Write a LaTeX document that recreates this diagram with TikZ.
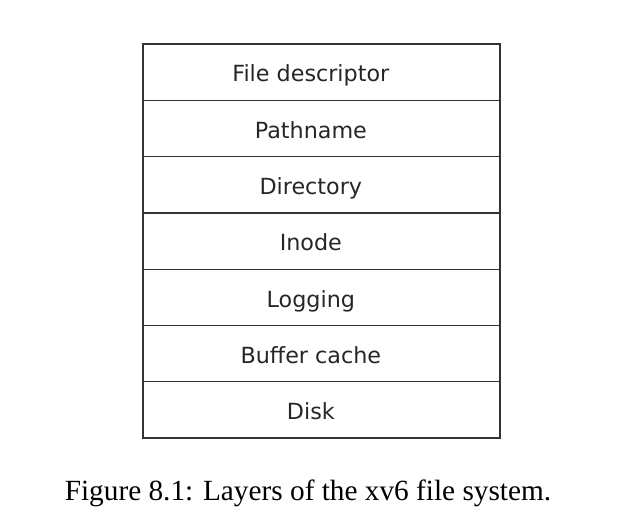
\documentclass[tikz,border=0pt]{standalone}
\usepackage{fontspec}
\setmainfont{Liberation Serif}
\newfontfamily\layerfont{DejaVu Sans}
\usetikzlibrary{positioning}
\begin{document}
\begin{tikzpicture}[x=0.3mm,y=-0.3mm,
  layer/.style={draw=black!80,line width=0.4mm,outer sep=0pt,inner sep=0pt,
    minimum width=107.1mm,minimum height=16.89mm},
  layertext/.style={inner sep=0pt,xshift=-3.2mm,text=black!85,
    text height=6.5mm,text depth=0.6mm,
    font=\layerfont\fontsize{19}{21}\selectfont}]
  \useasboundingbox (0,0) rectangle (621,529);
  % The seven layers, top to bottom.
  \node[layer,anchor=north west,label={[layertext]center:File descriptor}] (fd) at (143,44) {};
  \node[layer,below=0pt of fd,label={[layertext]center:Pathname}] (path) {};
  \node[layer,below=0pt of path,label={[layertext]center:Directory}] (dir) {};
  \node[layer,below=0pt of dir,label={[layertext]center:Inode}] (inode) {};
  \node[layer,below=0pt of inode,label={[layertext]center:Logging}] (log) {};
  \node[layer,below=0pt of log,label={[layertext]center:Buffer cache}] (buf) {};
  \node[layer,below=0pt of buf,label={[layertext]center:Disk}] (disk) {};
  % Caption.
  \node[anchor=base,inner sep=0pt,font=\fontsize{25}{28}\selectfont] (caption) at (308,500)
    {Figure 8.1: Layers of the xv6 file system.};
\end{tikzpicture}
\end{document}
